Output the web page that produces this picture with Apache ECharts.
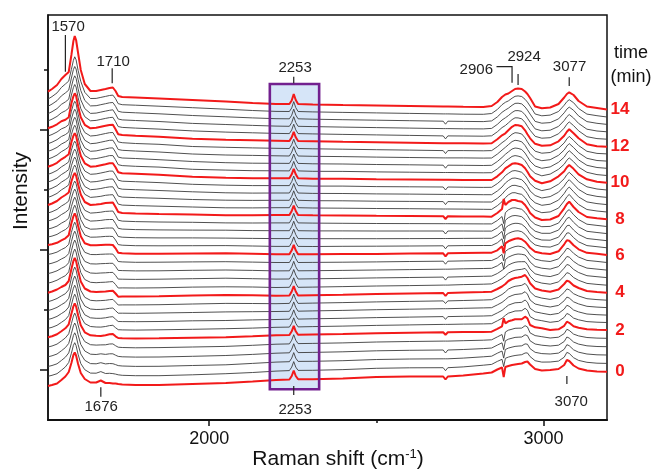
<!DOCTYPE html>
<html>
<head>
<meta charset="utf-8">
<script src="https://cdn.jsdelivr.net/npm/echarts@6/dist/echarts.min.js"></script>
<style>
  html, body { margin: 0; padding: 0; background: #fff; }
  #chart { width: 656px; height: 470px; }
</style>
</head>
<body>
<div id="chart"></div>
<script>
// Raman shift sampling points (cm-1) shared by all spectra
const wavenumbers = [1518,1530,1545,1558,1570, 1580,1588,1594,1598,1602, 1608,1616,1628,1645,1662, 1676,1690,1702,1712,1720,
  1728,1740,1780,1850,1950, 2050,2130,2200,2240,2247, 2253,2259,2266,2310,2400, 2500,2600,2700,2707,2714,
  2760,2820,2845,2862,2876, 2881,2886,2895,2906,2915, 2924,2935,2945,2952,2960, 2975,2995,3020,3045,3062,
  3070,3077,3090,3105,3130, 3160,3190];

// acquisition time of each spectrum (min)
const times = [0,0.4,0.8,1.2,1.6, 2,2.4,2.8,3.2,3.6, 4,4.4,4.8,5.2,5.6, 6,6.4,6.8,7.2,7.6,
  8,8.4,8.8,9.2,9.6, 10,10.4,10.8,11.2,11.6, 12,12.4,12.8,13.2,13.6, 14];

// waterfall baseline of each spectrum (intensity units)
const baselines = [37,46.1,55.3,64.4,73.6, 82.7,91.2,99.6,108.1,116.5, 125,133.3,141.7,150,158.4,
  166.7,174.4,182,189.7,197.3, 205,212.5,220.1,227.6,235.2, 242.7,250.3,257.9,265.5,273.1,
  280.7,288.5,296.2,304,311.7, 319.5];

// intensity of each spectrum above its baseline, one row per time
const spectra = [
[-3,-2,-0.5,3,6.5, 11,20,28,30.5,27.5, 19,10,4,0.5,0.5, 2.5,0,0,-0.5,-0.5, -1,-1.5,-2,-2,-1, 0,1.5,3,3.5,7, 12.5,7,3.8,3.8,4.5, 6,6.5,6.5,3.5,6.5, 7.5,9.5,10.5,13.5,15.5, 6,16,17,18,18.5, 19,19.5,21,21.5,18.5, 14,12.5,13,14,18, 23,22,17.5,14.5,12.5, 11.5,11.3],
[-2.4,-1.4,0.2,3.6,7, 11.4,20.7,28.6,31.2,28.2, 19.6,10.4,4.2,0.8,0.7, 2.3,0.4,0.6,0.3,-0.2, -0.9,-1.4,-1.8,-1.8,-0.9, 0.2,1.4,2.8,3.3,6.8, 12.3,6.8,3.5,3.6,4.3, 5.6,6.1,6.2,3.2,6.2, 7,8.7,9.5,12.5,14.6, 7.3,15.6,16.8,17.8,18.4, 18.8,19.2,20.9,21,17.3, 13.2,11.8,11.9,12.8,16.7, 21.5,20.5,16.2,13.5,11.6, 10.7,10.5],
[-1.8,-0.8,0.9,4.2,7.5, 11.8,21.4,29.2,31.9,28.9, 20.2,10.8,4.4,1.1,0.9, 2,0.8,1.2,1,0.1, -0.9,-1.3,-1.7,-1.6,-0.8, -0.1,1.3,2.6,3,6.6, 12.1,6.6,3.3,3.4,4, 5.2,5.7,5.9,5.9,5.9, 6.6,7.9,8.5,11.5,13.7, 6.6,15.2,16.6,17.6,18.3, 18.6,18.9,20.8,20.5,16, 12.4,11.1,10.7,11.6,15.4, 20,19,14.9,12.5,10.7, 9.9,9.7],
[-1.2,-0.2,1.6,4.8,8, 12.2,22.1,29.8,32.6,29.6, 20.8,11.2,4.6,1.4,1.1, 1.8,1.2,1.8,1.8,0.4, -0.8,-1.2,-1.5,-1.4,-0.7, 0.1,1.2,2.4,2.8,6.4, 11.9,6.4,3,3.2,3.8, 4.8,5.3,5.6,2.6,5.6, 6.1,7,7.6,10.5,12.8, 5.9,14.8,16.4,17.4,18.2, 18.4,18.6,20.8,20,14.8, 11.6,10.4,9.6,10.4,14.1, 18.6,17.5,13.6,11.5,9.8, 9.1,8.9],
[-0.6,0.4,2.3,5.4,8.5, 12.6,22.8,30.4,33.3,30.3, 21.4,11.6,4.8,1.7,1.3, 1.5,1.6,2.4,2.5,0.7, -0.8,-1.1,-1.4,-1.2,-0.6, 0,1.1,2.2,2.5,6.2, 11.7,6.2,2.8,3,3.5, 4.4,4.9,5.3,5.3,5.3, 5.7,6.2,6.6,9.5,11.9, 5.2,14.4,16.2,17.2,18.1, 18.2,18.3,20.7,19.5,13.5, 10.8,9.7,8.4,9.2,12.8, 17.1,16,12.3,10.5,8.9, 8.3,8.1],
[0,1,3,6,9, 13,23.5,31,34,31, 22,12,5,2,1.5, 1.3,2,3,3.3,1, -0.7,-1,-1.2,-1,-0.5, 0,1,2,2.3,6, 11.5,6,2.5,2.8,3.3, 4,4.5,5,2.5,5, 5.2,5.4,5.6,8.5,11, 19,14,16,17,18, 18,18,20.6,19,12.3, 10,9,7.3,8,11.5, 15.6,14.5,11,9.5,8, 7.5,7.3],
[0.5,1.5,3.5,6.4,9.2, 13.2,24,31.6,34.6,31.6, 22.5,12.3,5.3,2.3,1.8, 1.7,2.3,3.2,3.5,1.1, -0.9,-1.1,-1.3,-1,-0.5, 0.1,0.7,1.5,1.7,5.5, 11,5.5,1.9,2.2,2.7, 3.4,3.9,4.4,4.4,4.4, 4.7,4.9,5.1,8,10.5, 11.9,13.4,15.6,16.8,17.8, 17.9,18.1,20.5,18.6,12.2, 9.3,8.1,6.5,7.5,11.4, 15.3,14.3,10.7,9,7.2, 6.6,6.3],
[0.9,2,4,6.8,9.4, 13.4,24.5,32.2,35.2,32.2, 23,12.6,5.6,2.6,2.1, 2.1,2.6,3.4,3.7,1.2, -1.1,-1.2,-1.3,-1.1,-0.4, -0.1,0.5,0.9,1.2,5, 10.5,5,1.3,1.6,2.1, 2.8,3.3,3.8,1,3.8, 4.1,4.4,4.7,7.5,10, 11.3,12.8,15.2,16.6,17.6, 17.8,18.1,20.4,18.2,12.1, 8.6,7.2,5.7,7,11.3, 15.1,14.1,10.4,8.5,6.4, 5.7,5.3],
[1.4,2.5,4.5,7.2,9.6, 13.6,25,32.8,35.8,32.8, 23.5,12.9,5.9,2.9,2.4, 2.5,2.9,3.6,3.9,1.3, -1.3,-1.3,-1.4,-1.1,-0.6, 0,0.2,0.4,0.6,4.5, 10,4.5,0.7,1,1.5, 2.2,2.7,3.2,3.2,3.2, 3.6,4,4.2,7,9.5, 10.7,12.2,14.8,16.4,17.4, 17.7,18.2,20.2,17.8,11.9, 7.9,6.3,4.9,6.5,11.2, 14.8,13.9,10.1,8,5.6, 4.8,4.3],
[1.8,3,5,7.6,9.8, 13.8,25.5,33.4,36.4,33.4, 24,13.2,6.2,3.2,2.7, 2.9,3.2,3.8,4.1,1.4, -1.5,-1.4,-1.4,-1.2,-0.5, 0.1,0,-0.2,0.1,4, 9.5,4,0.1,0.4,0.9, 1.6,2.1,2.6,0,2.6, 3,3.5,3.8,6.5,9, 10.1,11.6,14.4,16.2,17.2, 17.6,18.2,20.1,17.4,11.8, 7.2,5.4,4.1,6,11.1, 14.6,13.7,9.8,7.5,4.8, 3.9,3.3],
[2.3,3.5,5.5,8,10, 14,26,34,37,34, 24.5,13.5,6.5,3.5,3, 3.3,3.5,4,4.3,1.5, -1.7,-1.5,-1.5,-1.2,-0.5, 0,-0.3,-0.7,-0.5,3.5, 9,3.5,-0.5,-0.2,0.3, 1,1.5,2,-1,2, 2.5,3,3.3,6,8.5, 9.5,11,14,16,17, 17.5,18.3,20,17,11.7, 6.5,4.5,3.3,5.5,11, 14.3,13.5,9.5,7,4, 3,2.3],
[3.5,4.6,6.5,9,11, 14.8,26.8,34.6,37.6,34.6, 25.1,14.2,7.2,4.4,4, 4.3,4.5,4.9,5.1,2.2, -1.3,-1.2,-1.3,-1.1,-0.4, -0.1,-0.3,-0.8,-0.6,3.4, 8.9,3.4,-0.6,-0.4,0.1, 0.7,1.1,1.6,1.6,1.6, 2.1,2.5,2.8,5.4,8.2, 9.3,10.8,13.6,15.5,16.5, 17,17.4,18.3,15.4,10.5, 5.5,3.6,2.5,4.8,10.6, 14,13.3,9.2,6.4,3.3, 2.3,1.5],
[4.7,5.7,7.5,10,12, 15.6,27.6,35.2,38.2,35.2, 25.7,14.9,7.9,5.3,5, 5.3,5.5,5.8,5.9,2.9, -0.8,-0.9,-1.1,-0.9,-0.4, 0.1,-0.4,-0.8,-0.7,3.3, 8.8,3.3,-0.7,-0.5,-0.1, 0.4,0.8,1.2,-1.8,1.2, 1.6,2,2.2,4.8,7.9, 9.1,10.6,13.2,15,16, 16.5,16.6,16.6,13.8,9.2, 4.5,2.7,1.7,4.1,10.2, 13.8,13.1,8.9,5.8,2.6, 1.6,0.7],
[5.9,6.8,8.5,11,13, 16.4,28.4,35.8,38.8,35.8, 26.3,15.6,8.6,6.2,6, 6.3,6.5,6.7,6.7,3.6, -0.4,-0.6,-0.9,-0.8,-0.3, 0,-0.4,-0.9,-0.8,3.2, 8.7,3.2,-0.8,-0.7,-0.4, 0,0.4,0.8,0.8,0.8, 1.2,1.5,1.7,4.2,7.6, 0.9,10.4,12.8,14.5,15.5, 16,15.7,15,12.2,8, 3.5,1.8,0.9,3.4,9.8, 13.5,12.9,8.6,5.2,1.9, 0.9,-0.1],
[7.1,7.9,9.5,12,14, 17.2,29.2,36.4,39.4,36.4, 26.9,16.3,9.3,7.1,7, 7.3,7.5,7.6,7.5,4.3, 0.1,-0.3,-0.7,-0.6,-0.3, -0.1,-0.5,-0.9,-0.9,3.1, 8.6,3.1,-0.9,-0.8,-0.6, -0.3,0.1,0.4,-2.6,0.4, 0.7,1,1.1,3.6,7.3, 0.7,10.2,12.4,14,15, 15.5,14.9,13.3,10.6,6.7, 2.5,0.9,0.1,2.7,9.4, 13.3,12.7,8.3,4.6,1.2, 0.2,-0.9],
[8.3,9,10.5,13,15, 18,30,37,40,37, 27.5,17,10,8,8, 8.3,8.5,8.5,8.3,5, 0.5,0,-0.5,-0.5,-0.2, 0,-0.5,-1,-1,3, 8.5,3,-1,-1,-0.8, -0.6,-0.3,0,-3,0, 0.3,0.5,0.6,3,7, 0,10,12,13.5,14.5, 15,14,11.6,9,5.5, 1.5,0,-0.7,2,9, 13,12.5,8,4,0.5, -0.5,-1.7],
[8.6,9.5,11.2,13.9,16, 18.9,30.7,37.5,40.4,37.5, 28.1,17.7,10.6,8.4,8.5, 8.8,9.2,9.3,9.1,5.6, 1,0.4,-0.1,-0.2,-0.1, 0,-0.4,-0.8,-0.8,3.2, 8.7,3.2,-0.8,-0.9,-0.7, -0.6,-0.4,-0.2,-3.2,-0.2, 0,0.1,0.1,2.8,6.8, -0.6,10,12.2,13.8,14.6, 14.8,13.9,11.3,8.5,4.8, 0.7,-1,-1.5,1.4,8.5, 12.6,12.7,8,3.8,0, -1.1,-2.2],
[9,10,11.9,14.8,17, 19.8,31.4,38,40.8,38, 28.7,18.4,11.2,8.8,9, 9.4,9.9,10,10,6.2, 1.5,0.8,0.3,0.1,0.1, -0.1,-0.4,-0.6,-0.6,3.4, 8.9,3.4,-0.6,-0.7,-0.7, -0.7,-0.6,-0.5,-0.5,-0.5, -0.4,-0.3,-0.3,2.6,6.6, -0.7,10,12.4,14.1,14.7, 14.6,13.7,11,8.1,4.1, -0.1,-2,-2.2,0.8,8.1, 12.2,12.8,8,3.6,-0.5, -1.6,-2.7],
[9.3,10.5,12.6,15.7,18, 20.7,32.1,38.5,41.2,38.5, 29.3,19.1,11.8,9.2,9.5, 9.9,10.6,10.8,10.8,6.8, 2,1.2,0.7,0.4,0.2, 0.1,-0.3,-0.4,-0.4,3.6, 9.1,3.6,-0.4,-0.6,-0.6, -0.7,-0.7,-0.7,-3.7,-0.7, -0.7,-0.8,-0.8,2.4,6.4, -0.8,10,12.6,14.4,14.8, 14.4,13.6,10.6,7.6,3.4, -0.9,-3,-3,0.2,7.6, 11.8,13,8,3.4,-1, -2.2,-3.3],
[9.7,11,13.3,16.6,19, 21.6,32.8,39,41.6,39, 29.9,19.8,12.4,9.6,10, 10.5,11.3,11.5,11.7,7.4, 2.5,1.6,1.1,0.7,0.4, -0.2,-0.3,-0.2,-0.2,3.8, 9.3,3.8,-0.2,-0.4,-0.6, -0.8,-0.9,-1,-1,-1, -1.1,-1.2,-1.2,2.2,6.2, -0.9,10,12.8,14.7,14.9, 14.2,13.4,10.3,7.2,2.7, -1.7,-4,-3.7,-0.4,7.2, 11.4,13.1,8,3.2,-1.5, -2.7,-3.8],
[10,11.5,14,17.5,20, 22.5,33.5,39.5,42,39.5, 30.5,20.5,13,10,10.5, 11,12,12.3,12.5,8, 3,2,1.5,1,0.5, -0.2,-0.2,0,0,4, 9.5,4,0,-0.3,-0.5, -0.8,-1,-1.2,-4,-1.2, -1.4,-1.6,-1.7,2,6, 16,10,13,15,15, 14,13.3,10,6.7,2, -2.5,-5,-4.5,-1,6.7, 11,13.3,8,3,-2, -3.3,-4.3],
[10.1,11.6,14.1,17.6,20.1, 22.6,33.8,39.9,42.4,39.9, 30.8,20.7,13.2,10.1,10.6, 11.2,12.2,12.6,12.8,8.4, 3.4,2.4,1.9,1.3,0.5, -0.3,-0.4,-0.2,-0.2,3.8, 9.3,3.8,-0.2,-0.5,-0.7, -1,-1.2,-1.5,-1.5,-1.5, -1.6,-1.8,-1.9,1.8,5.8, 7.8,9.8,12.6,14.7,14.8, 13.9,13.1,9.8,6.5,1.8, -2.7,-5.2,-4.4,-0.6,6.6, 10.8,13.1,8.1,3,-2, -3.5,-4.5],
[10.2,11.7,14.2,17.7,20.2, 22.7,34.1,40.3,42.8,40.3, 31.1,20.9,13.4,10.2,10.7, 11.4,12.4,13,13.1,8.8, 3.8,2.8,2.3,1.6,0.4, -0.3,-0.5,-0.4,-0.4,3.6, 9.1,3.6,-0.4,-0.8,-0.9, -1.3,-1.5,-1.7,-4.7,-1.7, -1.9,-2.1,-2.1,1.6,5.6, 7.6,9.6,12.2,14.4,14.6, 13.8,12.9,9.6,6.2,1.6, -2.9,-5.4,-4.3,-0.2,6.4, 10.6,12.9,8.2,3,-2, -3.7,-4.7],
[10.4,11.8,14.3,17.8,20.3, 22.8,34.4,40.7,43.2,40.7, 31.4,21.1,13.6,10.4,10.8, 11.6,12.6,13.3,13.4,9.2, 4.2,3.2,2.7,1.9,0.6, -0.4,-0.7,-0.6,-0.6,3.4, 8.9,3.4,-0.6,-1,-1.1, -1.5,-1.7,-2,-2,-2, -2.1,-2.3,-2.3,1.4,5.4, 7.4,9.4,11.8,14.1,14.4, 13.7,12.7,9.4,6,1.4, -3.1,-5.6,-4.2,0.2,6.3, 10.4,12.7,8.3,3,-2, -4,-5],
[10.5,11.9,14.4,17.9,20.4, 22.9,34.7,41.1,43.6,41.1, 31.7,21.3,13.8,10.5,10.9, 11.8,12.8,13.7,13.7,9.6, 4.6,3.6,3.1,2.2,0.5, -0.4,-0.8,-0.8,-0.8,3.2, 8.7,3.2,-0.8,-1.3,-1.3, -1.8,-2,-2.2,-5.2,-2.2, -2.4,-2.6,-2.5,1.2,5.2, 7.2,9.2,11.4,13.8,14.2, 13.6,12.5,9.2,5.7,1.2, -3.3,-5.8,-4.1,0.6,6.1, 10.2,12.5,8.4,3,-2, -4.2,-5.2],
[10.6,12,14.5,18,20.5, 23,35,41.5,44,41.5, 32,21.5,14,10.6,11, 12,13,14,14,10, 5,4,3.5,2.5,0.5, -0.5,-1,-1,-1,3, 8.5,3,-1,-1.5,-1.5, -2,-2.2,-2.5,-2.5,-2.5, -2.6,-2.8,-2.7,1,5, 7,9,11,13.5,14, 13.5,12.3,9,5.5,1, -3.5,-6,-4,1,6, 10,12.3,8.5,3,-2, -4.4,-5.4],
[10.7,12.1,14.6,18,20.3, 22.8,35.2,41.8,44.4,41.9, 32.2,21.6,14.1,10.7,11.1, 12.1,13.1,14.1,14.1,10, 5,4.1,3.4,2.6,0.4, -0.4,-1,-1.1,-1.2,2.8, 8.3,2.8,-1.2,-1.6,-1.7, -2.2,-2.5,-2.8,-2.8,-2.8, -2.9,-3.1,-3,0.8,4.8, 6.6,8.4,10.6,13.3,14.1, 13.6,12.4,9,5.4,1, -3.7,-6.1,-4.4,0.4,5.5, 9.5,11.8,8,2.6,-2.6, -4.9,-5.8],
[10.8,12.2,14.7,18,20.1, 22.6,35.4,42.1,44.8,42.3, 32.4,21.7,14.2,10.8,11.2, 12.2,13.2,14.1,14.2,10, 5,4.1,3.6,2.4,0.6, -0.6,-1.1,-1.2,-1.3,2.6, 8.1,2.6,-1.3,-1.7,-1.9, -2.4,-2.7,-3.1,-6.1,-3.1, -3.2,-3.4,-3.2,0.6,4.6, 6.2,7.8,10.2,13.1,14.1, 13.7,12.6,9,5.3,1, -3.9,-6.2,-4.8,-0.2,5, 9,11.4,7.5,2.2,-3.2, -5.4,-6.2],
[10.8,12.3,14.8,18,19.9, 22.4,35.6,42.4,45.2,42.7, 32.6,21.8,14.3,10.8,11.3, 12.3,13.3,14.2,14.3,10, 5,4.2,3.5,2.5,0.5, -0.5,-0.9,-1.3,-1.5,2.4, 7.9,2.4,-1.5,-1.8,-2.1, -2.6,-3,-3.4,-3.4,-3.4, -3.4,-3.6,-3.5,0.4,4.4, 5.8,7.2,9.8,12.9,14.2, 13.8,12.7,9,5.2,1, -4.1,-6.2,-5.2,-0.8,4.5, 8.5,10.9,7,1.8,-3.8, -6,-6.6],
[10.9,12.4,14.9,18,19.7, 22.2,35.8,42.7,45.6,43.1, 32.8,21.9,14.4,10.9,11.4, 12.4,13.4,14.2,14.4,10, 5,4.2,3.4,2.6,0.4, -0.4,-1,-1.4,-1.6,2.2, 7.7,2.2,-1.6,-1.9,-2.3, -2.8,-3.2,-3.7,-6.7,-3.7, -3.7,-3.9,-3.7,0.2,4.2, 5.4,6.6,9.4,12.7,14.2, 13.9,12.9,9,5.1,1, -4.3,-6.3,-5.6,-1.4,4, 8,10.5,6.5,1.4,-4.4, -6.5,-7],
[11,12.5,15,18,19.5, 22,36,43,46,43.5, 33,22,14.5,11,11.5, 12.5,13.5,14.3,14.5,10, 5,4.3,3.5,2.5,0.5, -0.5,-1,-1.5,-1.8,2, 7.5,2,-1.8,-2,-2.5, -3,-3.5,-4,-4,-4, -4,-4.2,-4,0,4, 5,6,9,12.5,14.3, 14,13,9,5,1, -4.5,-6.4,-6,-2,3.5, 7.5,10,6,1,-5, -7,-7.4],
[10.6,12.3,15.1,18.7,20.7, 23.3,36.5,44,47,44.5, 34,23,14.8,10.7,11.1, 12.1,13.1,13.9,14.2,9.9, 4.9,4.1,3.4,2.4,0.6, -0.6,-1.3,-1.9,-2.1,1.6, 7.3,1.7,-2.1,-2.4,-2.9, -3.4,-3.9,-4.4,-7.4,-4.4, -4.5,-4.7,-4.3,-0.3,3.9, 5,6,8.6,11.9,13.7, 13.6,12.7,9,5.3,1.3, -4.8,-6.7,-6.2,-2.3,3.4, 7.3,9.6,5.9,0.7,-5.2, -7.1,-7.7],
[10.1,12.1,15.2,19.4,21.9, 24.6,37,45,48,45.5, 35,24,15.2,10.4,10.7, 11.7,12.7,13.5,14,9.8, 4.8,3.9,3.3,2.3,0.4, -0.7,-1.6,-2.3,-2.5,1.2, 7.1,1.3,-2.5,-2.8,-3.3, -3.8,-4.3,-4.8,-4.8,-4.8, -5,-5.1,-4.6,-0.6,3.8, 5,6,8.2,11.3,13.1, 13.2,12.4,9,5.6,1.6, -5.1,-7,-6.4,-2.6,3.3, 7.1,9.3,5.8,0.4,-5.4, -7.2,-8],
[9.7,11.9,15.3,20.1,23.1, 25.9,38,46.5,49.5,47, 36.5,25.5,15.6,10.1,10.3, 11.3,12.3,13.2,13.5,9.7, 4.7,3.8,3.2,2.2,0.5, -0.8,-1.9,-2.7,-2.8,0.8, 6.9,1,-2.8,-3.2,-3.7, -4.2,-4.7,-5.2,-8.2,-5.2, -5.4,-5.6,-4.9,-0.9,3.7, 5,6,7.8,10.7,12.6, 12.8,12.1,9,5.9,1.9, -5.4,-7.2,-6.6,-2.9,3.2, 6.9,8.9,5.7,0.1,-5.6, -7.3,-8.4],
[9.2,11.7,15.4,20.8,24.3, 27.2,39,48,51.5,48.5, 38,27,16,9.8,9.9, 10.9,11.9,12.8,13.2,9.6, 4.6,3.6,3.1,2.1,0.6, -0.9,-2.2,-3.1,-3.2,0.4, 6.7,0.7,-3.2,-3.6,-4.1, -4.6,-5.1,-5.6,-5.6,-5.6, -5.9,-6,-5.2,-1.2,3.6, 5,6,7.4,10.1,12, 12.4,11.8,9,6.2,2.2, -5.7,-7.5,-6.8,-3.2,3.1, 6.7,8.6,5.6,-0.2,-5.8, -7.4,-8.7],
[8.8,11.5,15.5,21.5,25.5, 28.5,45.5,59.5,64.5,60.5, 47.5,30.5,16.5,9.5,9.5, 10.5,11.5,12.5,13,9.5, 4.5,3.5,3,2,0.5, -1,-2.5,-3.5,-3.5,0, 6.5,0.5,-3.5,-4,-4.5, -5,-5.5,-6,-6,-6, -6.3,-6.5,-5.5,-1.5,3.5, 5,6,7,9.5,11.5, 12,11.5,9,6.5,2.5, -6,-7.8,-7,-3.5,3, 6.5,8.2,5.5,-0.5,-6, -7.5,-9]
];

// x axis labels and tick marks
const xTickLabels = [2000, 3000];
const xMinorTicks = [2500];
// highlighted band around the 2253 cm-1 peak
const bandRange = [2181.5, 2329];

const FONT = '"Liberation Sans", Arial, Helvetica, sans-serif';
const RED = '#f21a1a';
const X_MIN = 1518, X_MAX = 3190, Y_MIN = 0, Y_MAX = 405;

const chart = echarts.init(document.getElementById('chart'), null, { renderer: 'canvas' });

const isLabelled = t => Number.isInteger(t) && t % 2 === 0;

const traceSeries = spectra.map((vals, k) => {
  const t = times[k];
  const red = isLabelled(t);
  const s = {
    type: 'line',
    name: 't' + t,
    xAxisIndex: 0, yAxisIndex: 0,
    data: wavenumbers.map((w, i) => [w, baselines[k] + vals[i]]),
    showSymbol: false, symbol: 'none', silent: true, animation: false,
    lineStyle: { color: red ? RED : '#3c3c3c', width: red ? 2 : 0.9 },
    z: red ? 4 : 3
  };
  if (red) {
    s.endLabel = {
      show: true, formatter: String(t), color: RED, fontSize: 17, fontWeight: 'bold',
      fontFamily: FONT, distance: 13, align: 'center', verticalAlign: 'middle'
    };
  }
  return s;
});

const bandSeries = [
  { type: 'line', data: [], silent: true, z: 1,
    markArea: { silent: true, z: 1, itemStyle: { color: '#d6e5f8', opacity: 1 },
      data: [[{ xAxis: bandRange[0], yAxis: 30.7 }, { xAxis: bandRange[1], yAxis: 336 }]] } },
  { type: 'line', data: [], silent: true, z: 6,
    markArea: { silent: true, z: 6, itemStyle: { color: 'none', borderColor: '#72208f', borderWidth: 2.6 },
      data: [[{ xAxis: bandRange[0], yAxis: 30.7 }, { xAxis: bandRange[1], yAxis: 336 }]] } }
];

chart.setOption({
  animation: false,
  backgroundColor: '#fff',
  grid: { left: 48, right: 49, top: 15, bottom: 50, show: true, borderColor: '#111', borderWidth: 1.5,
          backgroundColor: 'transparent', outerBoundsMode: 'none' },
  xAxis: [
    { type: 'value', min: X_MIN, max: X_MAX, position: 'bottom',
      axisLine: { show: true, lineStyle: { color: '#111', width: 2 } },
      axisTick: { show: true, length: 6, lineStyle: { color: '#111', width: 1.5 }, customValues: xTickLabels },
      axisLabel: { show: true, customValues: xTickLabels, formatter: v => String(v), margin: 10,
                   color: '#111', fontSize: 18, fontFamily: FONT },
      splitLine: { show: false } },
    { type: 'value', min: X_MIN, max: X_MAX, position: 'bottom',
      axisLine: { show: false },
      axisTick: { show: true, length: 3, lineStyle: { color: '#111', width: 1.5 }, customValues: xMinorTicks },
      axisLabel: { show: false }, splitLine: { show: false } }
  ],
  yAxis: [
    { type: 'value', min: Y_MIN, max: Y_MAX, position: 'left',
      axisLine: { show: true, lineStyle: { color: '#111', width: 1.5 } },
      axisTick: { show: true, length: 8, lineStyle: { color: '#111', width: 1.5 }, customValues: [50, 170, 290] },
      axisLabel: { show: false }, splitLine: { show: false } },
    { type: 'value', min: Y_MIN, max: Y_MAX, position: 'left',
      axisLine: { show: false },
      axisTick: { show: true, length: 4, lineStyle: { color: '#111', width: 1.5 }, customValues: [110, 230, 350] },
      axisLabel: { show: false }, splitLine: { show: false } }
  ],
  series: bandSeries.concat(traceSeries)
});

// peak annotations: tick segments in data coordinates plus their labels
const peakNotes = [
  { text: '1570', seg: [[1570, 385], [1570, 348.3]], label: [1578, 393] },
  { text: '1710', seg: [[1710, 351.7], [1710, 336.7]], label: [1713, 358.3] },
  { text: '2253', seg: [[2253, 343.3], [2253, 336.7]], label: [2257, 351.7] },
  { text: '2253', seg: [[2253, 34], [2253, 25]], label: [2257, 10] },
  { text: '1676', seg: [[1676, 32.7], [1676, 23.3]], label: [1677, 13.3] },
  { text: '2924', seg: [[2924, 346], [2924, 335]], label: [2942, 363.3] },
  { text: '3077', seg: [[3077, 342.7], [3077, 334]], label: [3078, 353.3] },
  { text: '3070', seg: [[3070, 44], [3070, 36]], label: [3083, 18.3] }
];
const toPx = p => chart.convertToPixel({ xAxisIndex: 0, yAxisIndex: 0 }, p);
const graphics = [];
peakNotes.forEach(n => {
  const a = toPx(n.seg[0]), b = toPx(n.seg[1]), c = toPx(n.label);
  graphics.push({ type: 'line', shape: { x1: a[0], y1: a[1], x2: b[0], y2: b[1] },
    style: { stroke: '#222', lineWidth: 1.2 }, z: 20 });
  graphics.push({ type: 'text', x: c[0], y: c[1], z: 20,
    style: { text: n.text, fill: '#222', font: '15px ' + FONT, textAlign: 'center', textVerticalAlign: 'middle',
             align: 'center', verticalAlign: 'middle' } });
});
// bracket for the 2906 shoulder
{
  const p1 = toPx([2859.5, 353.3]), p2 = toPx([2906, 353.3]), p3 = toPx([2906, 337.3]), lt = toPx([2849, 350]);
  graphics.push({ type: 'polyline', shape: { points: [p1, p2, p3] }, style: { stroke: '#222', lineWidth: 1.2, fill: null }, z: 20 });
  graphics.push({ type: 'text', x: lt[0], y: lt[1], z: 20,
    style: { text: '2906', fill: '#222', font: '15px ' + FONT, textAlign: 'right', textVerticalAlign: 'middle',
             align: 'right', verticalAlign: 'middle' } });
}
// heading for the time labels
graphics.push({ type: 'text', x: 631, y: 53, z: 20,
  style: { text: 'time', fill: '#111', font: '18px ' + FONT, textAlign: 'center', textVerticalAlign: 'middle', align: 'center', verticalAlign: 'middle' } });
graphics.push({ type: 'text', x: 631, y: 77, z: 20,
  style: { text: '(min)', fill: '#111', font: '18px ' + FONT, textAlign: 'center', textVerticalAlign: 'middle', align: 'center', verticalAlign: 'middle' } });
// axis titles
graphics.push({ type: 'text', x: 21, y: 191, rotation: Math.PI / 2, z: 20,
  style: { text: 'Intensity', fill: '#111', font: '21px ' + FONT, textAlign: 'center', textVerticalAlign: 'middle', align: 'center', verticalAlign: 'middle' } });
graphics.push({ type: 'text', x: 338, y: 459, z: 20,
  style: { text: 'Raman shift (cm{sup|-1})', fill: '#111', font: '21px ' + FONT,
           textAlign: 'center', textVerticalAlign: 'middle', align: 'center', verticalAlign: 'middle',
           rich: { sup: { fontSize: 13, fontFamily: FONT, fill: '#111', verticalAlign: 'top', padding: [0, 0, 9, 0] } } } });

chart.setOption({ graphic: graphics });
</script>
</body>
</html>
